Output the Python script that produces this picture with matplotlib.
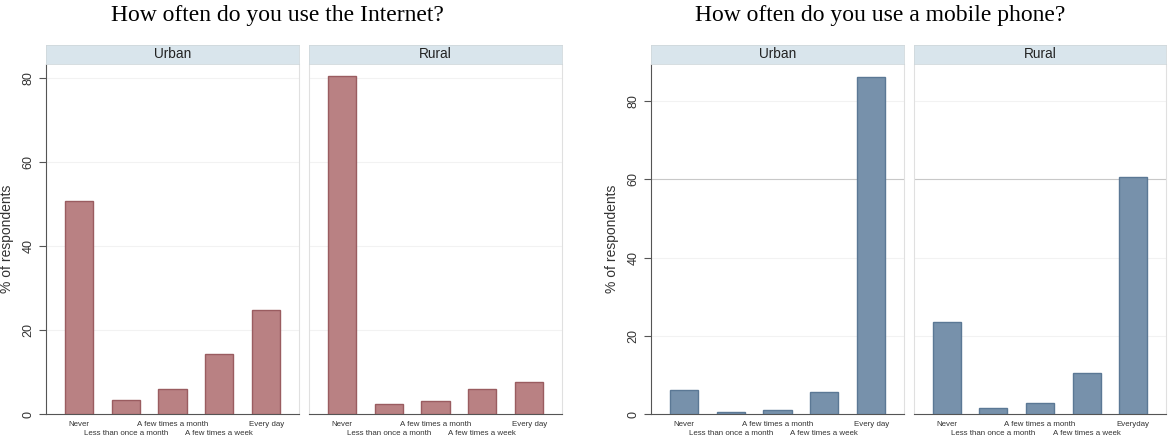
import matplotlib
matplotlib.use("Agg")
import matplotlib.pyplot as plt
import numpy as np

categories = ["Never", "Less than once a month", "A few times a month",
              "A few times a week", "Every day"]
categories_phone_rural = ["Never", "Less than once a month", "A few times a month",
                          "A few times a week", "Everyday"]

internet_urban = [50.8, 3.3, 6.0, 14.3, 24.8]
internet_rural = [80.5, 2.4, 3.1, 5.9, 7.6]
phone_urban = [6.2, 0.4, 1.0, 5.5, 86.3]
phone_rural = [23.6, 1.5, 2.9, 10.6, 60.5]

W, H = 1169, 436
fig = plt.figure(figsize=(W / 100, H / 100), dpi=100)
plt.rcParams['font.family'] = ['Liberation Sans', 'DejaVu Sans']


def px_axes(x0, x1, y0, y1):
    # pixel box -> figure fraction
    return fig.add_axes([x0 / W, 1 - y1 / H, (x1 - x0) / W, (y1 - y0) / H])


def panel(x0, x1, values, labels, ymax, ticks, color, edge, label, first, dark60):
    ax = px_axes(x0, x1, 64, 414)
    x = np.arange(len(values))
    ax.bar(x, values, width=0.6, color=color, edgecolor=edge, linewidth=1, zorder=3)
    ax.set_xlim(-0.7, 4.7)
    ax.set_ylim(0, ymax)
    for t in ticks[1:]:
        c = "#c8c8c8" if (dark60 and t == 60) else "#f2f2f2"
        ax.axhline(t, color=c, lw=0.8, zorder=1)
    # staggered category labels: even on major ticks, odd on minor ticks
    ax.set_xticks(x[::2])
    ax.set_xticklabels(labels[::2], fontsize=5.7, color="#333333")
    ax.set_xticks(x[1::2], minor=True)
    ax.set_xticklabels(labels[1::2], minor=True, fontsize=5.7, color="#333333")
    ax.tick_params(axis="x", which="major", length=0, pad=5)
    ax.tick_params(axis="x", which="minor", length=0, pad=11.5)
    ax.set_yticks(ticks)
    if first:
        ax.set_yticklabels([str(t) for t in ticks], rotation=90, va="center",
                           fontsize=9, color="#333333")
        ax.tick_params(axis="y", length=5, color="#555555", width=0.8)
        ax.set_ylabel("% of respondents", fontsize=10, color="#333333", labelpad=6)
        ax.spines["left"].set_color("#555555")
    else:
        ax.set_yticklabels([])
        ax.tick_params(axis="y", length=0)
        ax.spines["left"].set_color("#e0e0e0")
    ax.spines["bottom"].set_color("#555555")
    ax.spines["right"].set_color("#e0e0e0")
    ax.spines["top"].set_visible(False)
    for s in ax.spines.values():
        s.set_linewidth(0.8)

    st = px_axes(x0, x1, 45, 64)
    st.set_facecolor("#d9e5ec")
    st.set_xticks([])
    st.set_yticks([])
    for s in st.spines.values():
        s.set_color("#d0d8dc")
        s.set_linewidth(0.6)
    st.text(0.5, 0.5, label, ha="center", va="center", fontsize=9.8, color="#222222",
            transform=st.transAxes)
    return ax


red, red_edge = "#b98183", "#9a5c60"
blue, blue_edge = "#7791ab", "#5b7895"

panel(46, 299, internet_urban, categories, 83.3, [0, 20, 40, 60, 80], red, red_edge, "Urban", True, False)
panel(309, 562, internet_rural, categories, 83.3, [0, 20, 40, 60, 80], red, red_edge, "Rural", False, False)
panel(651, 904, phone_urban, categories, 89.5, [0, 20, 40, 60, 80], blue, blue_edge, "Urban", True, True)
panel(914, 1166, phone_rural, categories_phone_rural, 89.5, [0, 20, 40, 60, 80], blue, blue_edge, "Rural", False, True)

fig.text(277 / W, 1 - 15 / H, "How often do you use the Internet?", ha="center", va="center",
         fontsize=17, family="Liberation Serif")
fig.text(880 / W, 1 - 15 / H, "How often do you use a mobile phone?", ha="center", va="center",
         fontsize=17, family="Liberation Serif")

fig.savefig("out.png", dpi=100)
